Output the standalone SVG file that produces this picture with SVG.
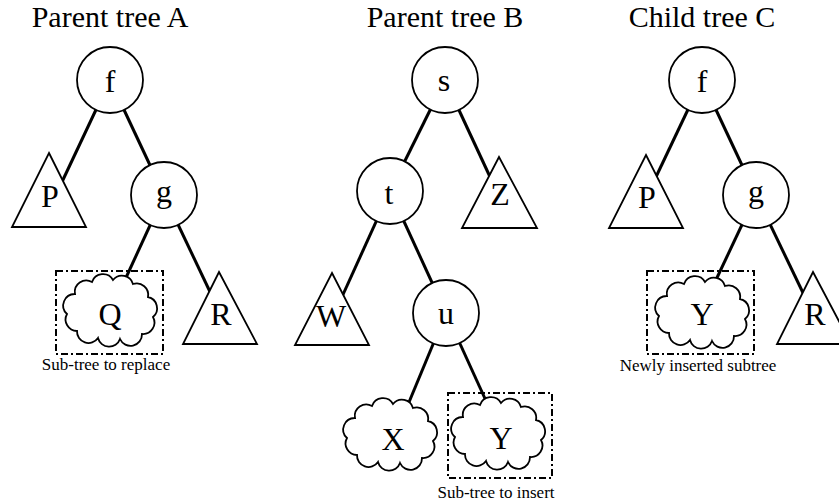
<svg xmlns="http://www.w3.org/2000/svg" width="839" height="504" viewBox="0 0 839 504">
<style>
  text { font-family: "Liberation Serif", "Times New Roman", serif; fill: #000; text-anchor: middle; }
  .title { font-size: 30px; }
  .lbl { font-size: 32px; }
  .cap { font-size: 17px; }
  .edge { stroke: #000; stroke-width: 3; fill: none; }
  .node { fill: #fff; stroke: #000; stroke-width: 1.8; }
  .box { fill: none; stroke: #000; stroke-width: 2; stroke-dasharray: 7 3 2 3; }
</style>
<defs>
  <path id="cloud" d="M -43 5 A 11.5 11.5 0 0 1 -35 -15 A 11.5 11.5 0 0 1 -18 -27 A 11.5 11.5 0 0 1 3 -29 A 11.5 11.5 0 0 1 23 -25 A 11.5 11.5 0 0 1 38 -12 A 11.5 11.5 0 0 1 43 8 A 11.5 11.5 0 0 1 32 25 A 11.5 11.5 0 0 1 10 30 A 11.5 11.5 0 0 1 -12 29 A 11.5 11.5 0 0 1 -33 22 A 11.5 11.5 0 0 1 -43 5 Z"/>
</defs>
<rect width="839" height="504" fill="#fff"/>

<g id="titles">
  <text class="title" x="110" y="27">Parent tree A</text>
  <text class="title" x="445" y="27">Parent tree B</text>
  <text class="title" x="702" y="27">Child tree C</text>
</g>

<g id="connectors">
  <line class="edge" x1="110" y1="80" x2="61" y2="184"/>
  <line class="edge" x1="110" y1="80" x2="164" y2="195"/>
  <line class="edge" x1="164" y1="195" x2="124" y2="282"/>
  <line class="edge" x1="164" y1="195" x2="212" y2="296"/>

  <line class="edge" x1="445" y1="80" x2="390" y2="191"/>
  <line class="edge" x1="445" y1="80" x2="491" y2="179"/>
  <line class="edge" x1="390" y1="191" x2="341" y2="299"/>
  <line class="edge" x1="390" y1="191" x2="446" y2="313"/>
  <line class="edge" x1="446" y1="313" x2="407" y2="407"/>
  <line class="edge" x1="446" y1="313" x2="492" y2="414"/>

  <line class="edge" x1="702" y1="80" x2="655" y2="179"/>
  <line class="edge" x1="702" y1="80" x2="756" y2="195"/>
  <line class="edge" x1="756" y1="195" x2="715" y2="282"/>
  <line class="edge" x1="756" y1="195" x2="805" y2="297"/>
</g>

<!-- Tree A -->
<g id="A_f"><circle class="node" cx="110" cy="80" r="33"/><text class="lbl" x="110" y="92">f</text></g>
<g id="A_P"><polygon class="node" points="49,153 86,227 12,227"/><text class="lbl" x="50" y="207">P</text></g>
<g id="A_g"><circle class="node" cx="164" cy="195" r="33"/><text class="lbl" x="164" y="202">g</text></g>
<g id="A_Q"><use href="#cloud" class="node" transform="translate(110,309)"/><text class="lbl" x="110" y="325">Q</text></g>
<g id="A_R"><polygon class="node" points="219,272 257,344 183,344"/><text class="lbl" x="221" y="325">R</text></g>
<g id="A_box"><rect class="box" x="56" y="271" width="107" height="83"/><text class="cap" x="106" y="370">Sub-tree to replace</text></g>

<!-- Tree B -->
<g id="B_s"><circle class="node" cx="445" cy="80" r="33"/><text class="lbl" x="444" y="91">s</text></g>
<g id="B_t"><circle class="node" cx="390" cy="191" r="33"/><text class="lbl" x="389" y="204">t</text></g>
<g id="B_Z"><polygon class="node" points="499,157 537,228 462,228"/><text class="lbl" x="500" y="205">Z</text></g>
<g id="B_W"><polygon class="node" points="332,273 369,345 295,345"/><text class="lbl" x="331" y="327">W</text></g>
<g id="B_u"><circle class="node" cx="446" cy="313" r="33"/><text class="lbl" x="446" y="324">u</text></g>
<g id="B_X"><use href="#cloud" class="node" transform="translate(390,433)"/><text class="lbl" x="393" y="450">X</text></g>
<g id="B_Y"><use href="#cloud" class="node" transform="translate(498,432)"/><text class="lbl" x="501" y="449">Y</text></g>
<g id="B_box"><rect class="box" x="448" y="393" width="104" height="85"/><text class="cap" x="496" y="498">Sub-tree to insert</text></g>

<!-- Tree C -->
<g id="C_f"><circle class="node" cx="702" cy="80" r="33"/><text class="lbl" x="702" y="92">f</text></g>
<g id="C_P"><polygon class="node" points="646,155 683,228 609,228"/><text class="lbl" x="647" y="208">P</text></g>
<g id="C_g"><circle class="node" cx="756" cy="195" r="33"/><text class="lbl" x="756" y="202">g</text></g>
<g id="C_Y"><use href="#cloud" class="node" transform="translate(702,311)"/><text class="lbl" x="702" y="325">Y</text></g>
<g id="C_R"><polygon class="node" points="813,272 851,344 777,344"/><text class="lbl" x="815" y="325">R</text></g>
<g id="C_box"><rect class="box" x="647" y="271" width="107" height="83"/><text class="cap" x="698" y="371">Newly inserted subtree</text></g>
</svg>
